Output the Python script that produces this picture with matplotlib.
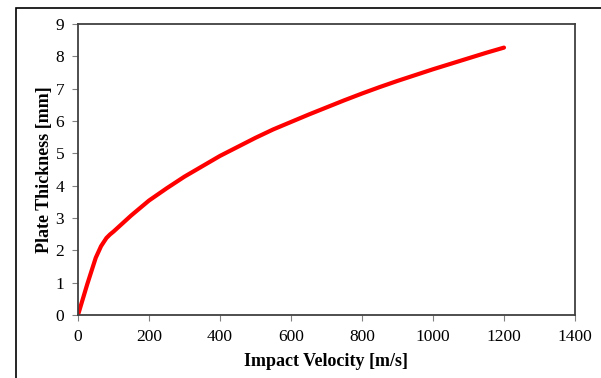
import matplotlib.pyplot as plt
from matplotlib import rcParams
from matplotlib.patches import Rectangle

rcParams['font.family'] = 'serif'
rcParams['font.serif'] = ['Liberation Serif', 'DejaVu Serif']

# values
velocity = [0, 26, 50, 65, 80, 90, 100, 150, 200, 250, 300, 350, 400, 450, 500, 550, 600,
            650, 700, 750, 800, 850, 900, 950, 1000, 1050, 1100, 1150, 1200]
thickness = [0, 0.95, 1.77, 2.13, 2.38, 2.49, 2.58, 3.08, 3.54, 3.92, 4.28, 4.6, 4.92, 5.2,
             5.48, 5.74, 5.97, 6.2, 6.42, 6.64, 6.85, 7.05, 7.24, 7.42, 7.6, 7.77, 7.94, 8.11, 8.27]

x_ticks = [0, 200, 400, 600, 800, 1000, 1200, 1400]
y_ticks = [0, 1, 2, 3, 4, 5, 6, 7, 8, 9]

fig = plt.figure(figsize=(6.01, 3.78), dpi=100)
fig.patch.set_facecolor('white')

# outer chart frame (cut off at right and bottom like the screenshot)
fig.patches.append(Rectangle((16 / 601, -0.1), 1.2, (378 - 8) / 378 + 0.1,
                             transform=fig.transFigure, fill=False,
                             edgecolor='black', linewidth=1.2))

ax = fig.add_axes([78 / 601, 63 / 378, 497 / 601, 291 / 378])
ax.plot(velocity, thickness, color='#ff0000', linewidth=3, solid_capstyle='round',
        solid_joinstyle='round')

ax.set_xlim(0, 1400)
ax.set_ylim(0, 9)
ax.set_xticks(x_ticks)
ax.set_yticks(y_ticks)
for s in ax.spines.values():
    s.set_color('#404040')
    s.set_linewidth(1.3)
ax.tick_params(direction='out', length=4, width=0.8, color='#808080',
               labelsize=12.5, top=False, right=False)
ax.tick_params(axis='y', pad=6)
ax.tick_params(axis='x', pad=6)

ax.set_xlabel('Impact Velocity [m/s]', fontsize=13, fontweight='bold', labelpad=6)
ax.set_ylabel('Plate Thickness [mm]', fontsize=13, fontweight='bold', labelpad=2)

plt.savefig('out.png', dpi=100, facecolor='white')
